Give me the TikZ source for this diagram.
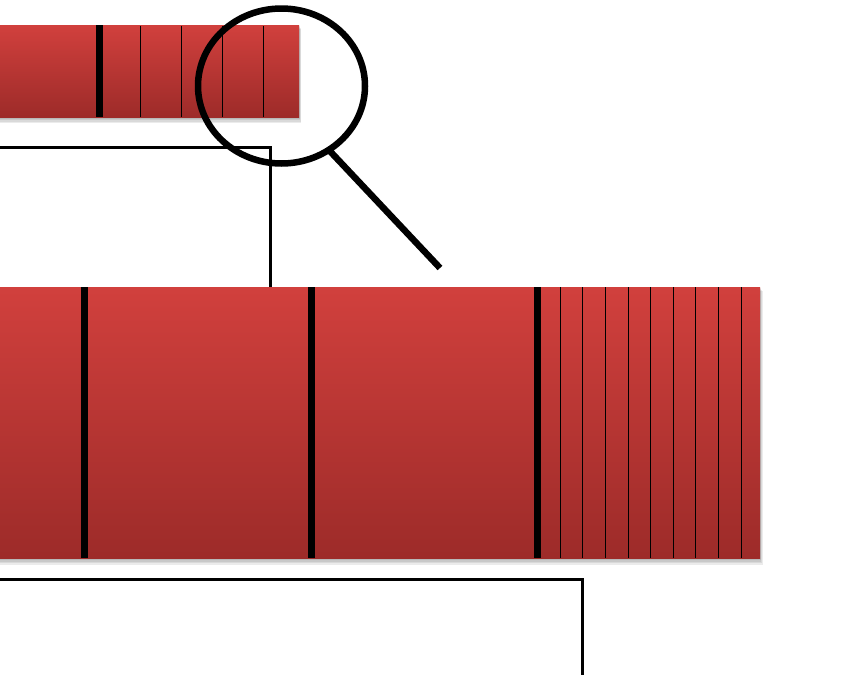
\documentclass[tikz,border=0pt]{standalone}
\usepackage{tikz}
\usetikzlibrary{calc}
\usepackage{xcolor}
\definecolor{barTop}{RGB}{209,64,61}
\definecolor{barBot}{RGB}{157,43,41}
\definecolor{ink}{RGB}{0,0,0}
\tikzset{
  zbar/.style={top color=barTop,bottom color=barBot,draw=none},
  zshade/.style={fill=black,opacity=0.08},
  zthick/.style={ink,line width=7pt},
  zthin/.style={ink,line width=1pt},
  zbrack/.style={ink,line width=3pt},
  zglass/.style={ink,line width=6.5pt},
}

\begin{document}
\begin{tikzpicture}[x=1pt,y=-1pt]
  \useasboundingbox (0,0) rectangle (856,675);
  % small bar (top)
  \foreach \d in {1,2,3,4} {\fill[zshade] (0,25+\d) rectangle (299+0.6*\d,117+1.6*\d);}
  \shade[zbar] (0,25) rectangle (299,117);
  \draw[zthick] (99,25) -- (99,117);
  \foreach \x in {140,181,222,263} {\draw[zthin] (\x,26) -- (\x,117);}
  % large bar
  \foreach \d in {1,2,3,4} {\fill[zshade] (0,287+\d) rectangle (760+0.7*\d,558+1.8*\d);}
  \shade[zbar] (0,287) rectangle (760,558);
  \foreach \x in {84,311.5,537.5} {\draw[zthick] (\x,287) -- (\x,558);}
  \foreach \x in {560,582,605,628,650,673,695,718,741} {\draw[zthin] (\x,287) -- (\x,558);}
  % brackets
  \coordinate (topL) at (0,147);
  \coordinate (topR) at (270.5,287);
  \coordinate (botL) at (0,579);
  \coordinate (botR) at (582.5,675);
  \draw[zbrack] (topL) -| (topR);
  \draw[zbrack] (botL) -| (botR);
  % magnifier
  \coordinate (lens) at (281.5,86);
  \coordinate (grip) at (327,148);
  \coordinate (tip)  at (440,268);
  \draw[zglass] (lens) ellipse [x radius=83.5,y radius=77.5];
  \draw[zglass] (grip) -- (tip);
\end{tikzpicture}
\end{document}
